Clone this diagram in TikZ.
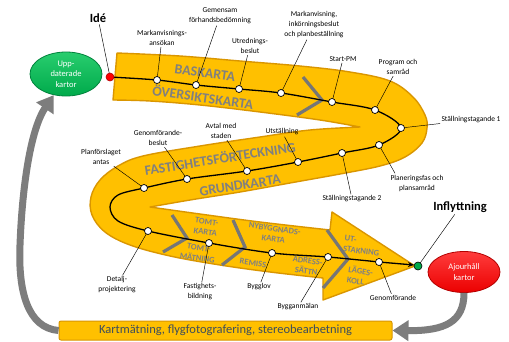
\documentclass[tikz,border=0pt]{standalone}
\usepackage{fontspec}
\setmainfont{Carlito}
\usetikzlibrary{arrows.meta,shapes.geometric}
\definecolor{gold}{RGB}{255,192,0}
\definecolor{goldedge}{RGB}{218,150,0}
\definecolor{bandtext}{RGB}{128,128,128}
\definecolor{chev}{RGB}{118,118,118}
\definecolor{arrgray}{RGB}{125,125,125}
\definecolor{grmain}{RGB}{0,170,75}
\definecolor{grlight}{RGB}{40,205,110}
\definecolor{grdark}{RGB}{0,130,60}
\definecolor{rdmain}{RGB}{235,0,0}
\definecolor{rdlight}{RGB}{255,60,60}
\definecolor{rddark}{RGB}{180,0,0}
\definecolor{bartext}{RGB}{62,78,92}
\begin{document}
\begin{tikzpicture}[x=1pt,y=-1pt,
  lbl/.style={font=\fontsize{7.5}{10}\selectfont, align=center, inner sep=0pt, outer sep=1.5pt},
  bigl/.style={font=\bfseries\fontsize{12.5}{13}\selectfont, inner sep=0pt, outer sep=2pt},
  btxt/.style={text=bandtext, font=\bfseries\fontsize{14}{14}\selectfont, inner sep=0pt},
  stxt/.style={text=bandtext, font=\bfseries\fontsize{8.5}{10.5}\selectfont, align=center, inner sep=0pt},
  mydot/.style={circle, draw=black, fill=white, line width=0.7pt, minimum size=7pt, inner sep=0pt},
  leadline/.style={draw=black, line width=0.45pt},
  chevline/.style={draw=chev, line width=3.2pt},
  grarrow/.style={draw=arrgray, line width=7pt, -{Triangle[width=20pt,length=16pt]}},
  ovalbox/.style={ellipse, minimum width=72pt, minimum height=44pt, inner sep=0pt, text=white, align=center, font=\fontsize{8.5}{10.5}\selectfont, line width=0.8pt}
]
\useasboundingbox (0,0) rectangle (509,341);
\fill[white] (0,0) rectangle (509,341);

% ellipses and bottom bar
\node[ovalbox, top color=grlight, bottom color=grmain, draw=grdark] (upd) at (66,74) {Upp-\\daterade\\kartor};
\node[ovalbox, top color=rdlight, bottom color=rdmain, draw=rddark, minimum width=72pt, minimum height=41pt] (aj) at (464,272) {Ajourhåll\\kartor};
\node[draw=goldedge, fill=gold, line width=1pt, rounded corners=2pt, minimum width=333pt, minimum height=19pt, inner sep=0pt, text=bartext, font=\fontsize{12.5}{13}\selectfont] (bar) at (225.5,330.5) {Kartmätning, flygfotografering, stereobearbetning};

% grey return arrows
\draw[grarrow] (bar.west) .. controls (28,328) and (18,292) .. (20,245) .. controls (22,190) and (30,130) .. (upd.240);
\draw[grarrow] (aj.south) .. controls (464,322) and (445,331) .. (bar.east);

% the S-shaped band
\fill[gold, draw=goldedge, line width=1.4pt, line join=round] (117,53)
 -- plot[smooth, tension=0.6] coordinates {(117,53) (180,56) (240,61) (300,66) (350,72) (390,81) (413,97) (425,115) (427,128) (422,143) (405,157) (380,166) (340,174) (290,183) (240,192) (190,200) (150,207)}
 -- plot[smooth, tension=0.6] coordinates {(150,207) (200,214) (260,222) (330,230)}
 -- (332,212) -- (415,266) -- (323,300) -- (323,278)
 -- plot[smooth, tension=0.6] coordinates {(323,278) (270,272) (220,265) (170,256) (130,245) (105,232) (92,215) (91,197) (100,180) (118,166) (143,156) (200,146) (260,137) (310,130) (360,127)}
 -- plot[smooth, tension=0.6] coordinates {(360,127) (320,120) (260,112) (200,105) (150,101) (113,100)}
 -- cycle;

% band texts
\node[btxt, rotate=-8] (t1) at (205,73) {BASKARTA};
\node[btxt, rotate=-8] (t2) at (203,97) {ÖVERSIKTSKARTA};
\node[btxt, rotate=9] (t3) at (220,158) {FASTIGHETSFÖRTECKNING};
\node[btxt, rotate=9] (t4) at (240,185.5) {GRUNDKARTA};
\node[stxt, rotate=-8] (t5) at (206,227) {TOMT-\\KARTA};
\node[stxt, rotate=-8] (t6) at (198,253) {TOMT-\\MÄTNING};
\node[stxt, rotate=-8] (t7) at (274,234) {NYBYGGNADS-\\KARTA};
\node[stxt, rotate=-8] (t8) at (253,263) {REMISS};
\node[stxt, rotate=-8] (t9) at (307,266) {ADRESS-\\SÄTTN};
\node[stxt, rotate=-8, align=left] (t10) at (362,246) {UT-\\STAKNING};
\node[stxt, rotate=-8, align=left] (t11) at (360,276) {LÄGES-\\KOLL};

% chevrons
\draw[chevline] (303,77) -- (322,100) -- (297,115);
\draw[chevline] (172,215) -- (187,238) -- (163,252);
\draw[chevline] (233,220) -- (245,247) -- (222,265);
\draw[chevline] (327,230) -- (348,259) -- (323,288);

% route points
\coordinate (p1) at (110,77);
\coordinate (p2) at (157,80);
\coordinate (p3) at (196,85);
\coordinate (p4) at (239,89);
\coordinate (p5) at (281,93);
\coordinate (p6) at (332,102);
\coordinate (p7) at (375,110);
\coordinate (p8) at (401,128);
\coordinate (p9) at (379,145);
\coordinate (p10) at (342,153);
\coordinate (p11) at (298,162);
\coordinate (p12) at (247,171);
\coordinate (p13) at (187,179);
\coordinate (p14) at (144,188);
\coordinate (q1) at (118,195);
\coordinate (q2) at (110,207);
\coordinate (q3) at (118,221);
\coordinate (p15) at (148,231);
\coordinate (p16) at (209,243);
\coordinate (p17) at (272,253);
\coordinate (p18) at (328,257);
\coordinate (p19) at (379,262);
\coordinate (pe) at (414,265);
\coordinate (p20) at (418,266);

% route line
\draw[line width=1.3pt, -{Stealth[length=6pt,width=5pt]}] plot[smooth, tension=0.55] coordinates {(p1) (p2) (p3) (p4) (p5) (p6) (p7) (p8) (p9) (p10) (p11) (p12) (p13) (p14) (q1) (q2) (q3) (p15) (p16) (p17) (p18) (p19)} -- (pe);

% labels
\node[bigl] (lab1) at (98,18) {Idé};
\node[lbl] (lab2) at (162,38) {Markanvisnings-\\ansökan};
\node[lbl] (lab3) at (220,16) {Gemensam\\förhandsbedömning};
\node[lbl] (lab4) at (250,46) {Utrednings-\\beslut};
\node[lbl] (lab5) at (314,25) {Markanvisning,\\inkörningsbeslut\\och planbeställning};
\node[lbl] (lab6) at (343,59) {Start-PM};
\node[lbl] (lab7) at (398,67) {Program  och\\samråd};
\node[lbl] (lab8) at (471,120) {Ställningstagande  1};
\node[lbl] (lab9) at (417,183) {Planeringsfas  och\\plansamråd};
\node[lbl] (lab10) at (352,199) {Ställningstagande  2};
\node[lbl] (lab11) at (282,132) {Utställning};
\node[lbl] (lab12) at (221,131) {Avtal  med\\staden};
\node[lbl] (lab13) at (158,138) {Genomförande-\\beslut};
\node[lbl] (lab14) at (101,157) {Planförslaget\\antas};
\node[lbl] (lab15) at (117,285) {Detalj-\\projektering};
\node[lbl] (lab16) at (200,292) {Fastighets-\\bildning};
\node[lbl] (lab17) at (259,287) {Bygglov};
\node[lbl] (lab18) at (298,307) {Bygganmälan};
\node[lbl] (lab19) at (393,298) {Genomförande};
\node[bigl] (lab20) at (460,207) {Inflyttning};

% leaders
\draw[leadline] (lab1) -- (p1);
\draw[leadline] (lab2) -- (p2);
\draw[leadline] (lab3) -- (p3);
\draw[leadline] (lab4) -- (p4);
\draw[leadline] (lab5) -- (p5);
\draw[leadline] (lab6) -- (p6);
\draw[leadline] (lab7) -- (p7);
\draw[leadline] (lab8) -- (p8);
\draw[leadline] ([xshift=6pt]lab9.north west) -- (p9);
\draw[leadline] (lab10) -- (p10);
\draw[leadline] (lab11) -- (p11);
\draw[leadline] (lab12) -- (p12);
\draw[leadline] (lab13) -- (p13);
\draw[leadline] (lab14) -- (p14);
\draw[leadline] (lab15) -- (p15);
\draw[leadline] (lab16) -- (p16);
\draw[leadline] (lab17) -- (p17);
\draw[leadline] (lab18) -- (p18);
\draw[leadline] (lab19) -- (p19);
\draw[leadline] (lab20) -- (p20);

% dots
\node[circle, fill=red, draw=rddark, line width=0.6pt, minimum size=8pt, inner sep=0pt] (d1) at (p1) {};
\foreach \k in {2,...,19} { \node[mydot] (d\k) at (p\k) {}; }
\node[circle, fill=grmain, draw=black, line width=0.6pt, minimum size=8pt, inner sep=0pt] (d20) at (p20) {};
\end{tikzpicture}
\end{document}
